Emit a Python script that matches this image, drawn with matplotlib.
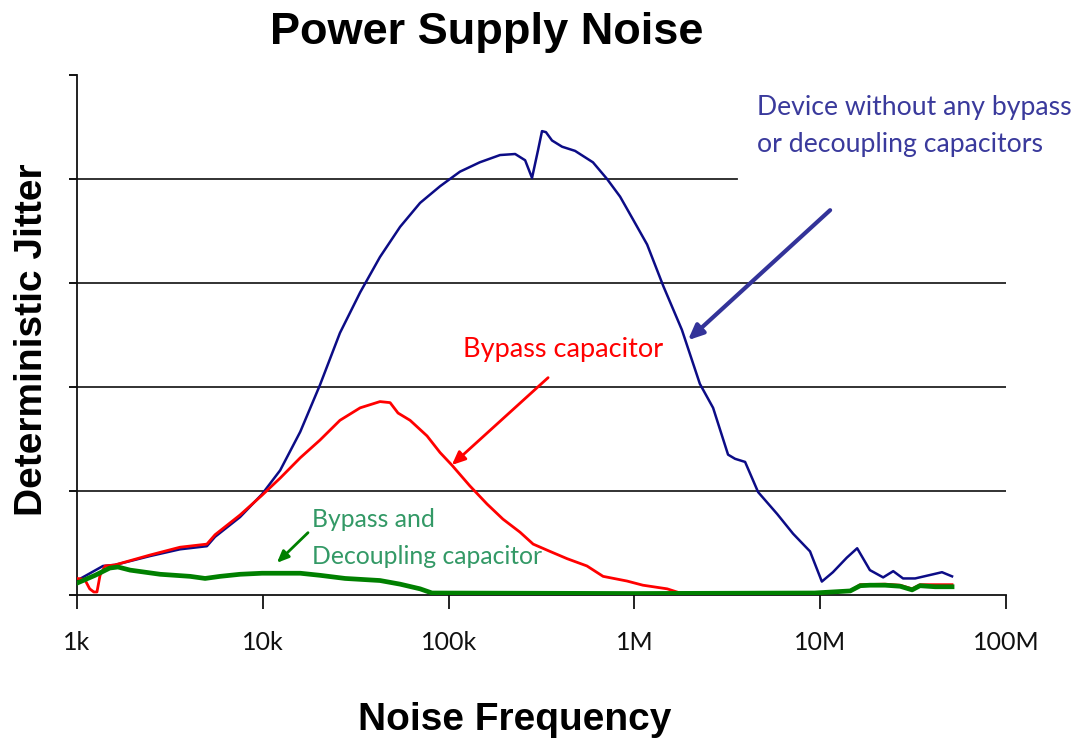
import numpy as np
import matplotlib
matplotlib.use("Agg")
import matplotlib.pyplot as plt

# noise frequency (Hz) and deterministic jitter (arb. units, grid step = 1)
freq_none = [1000, 1175, 1380, 1600, 2470, 3580, 5000, 5530, 7540, 9900,
             12400, 15900, 20300, 26000, 33400, 42700, 54800, 70200, 89900,
             115000, 147000, 189000, 228000, 258000, 281000, 303000, 318000,
             334000, 360000, 408000, 479000, 598000, 712000, 837000, 983000,
             1.17e6, 1.43e6, 1.80e6, 2.25e6, 2.65e6, 3.19e6, 3.48e6, 3.94e6,
             4.63e6, 5.86e6, 7.14e6, 8.81e6, 1.02e7, 1.17e7, 1.39e7, 1.58e7,
             1.85e7, 2.18e7, 2.47e7, 2.79e7, 3.24e7, 4.05e7, 4.52e7, 5.12e7]
jitter_none = [0.14, 0.21, 0.28, 0.29, 0.375, 0.44, 0.47, 0.56, 0.75, 0.97,
               1.20, 1.57, 2.02, 2.52, 2.91, 3.25, 3.54, 3.77, 3.93,
               4.07, 4.16, 4.23, 4.24, 4.18, 4.01, 4.28, 4.46,
               4.45, 4.37, 4.31, 4.27, 4.16, 4.00, 3.83, 3.61,
               3.37, 2.97, 2.55, 2.03, 1.80, 1.35, 1.31, 1.28,
               0.99, 0.78, 0.59, 0.42, 0.13, 0.22, 0.36, 0.45,
               0.24, 0.17, 0.23, 0.16, 0.16, 0.20, 0.22, 0.18]

freq_bypass = [1000, 1100, 1170, 1230, 1280, 1330, 1415, 1600, 2470, 3580, 5000,
               5530, 7540, 9900, 12400, 15900, 20300, 26000, 33400, 42700,
               48400, 53400, 62000, 76500, 89900, 104000, 130000, 161000,
               196000, 242000, 285000, 351000, 434000, 555000, 678000, 912000,
               1.11e6, 1.50e6, 1.76e6, 3.0e6, 6.9e6, 1.0e7, 1.45e7, 1.64e7,
               2.23e7, 2.69e7, 3.12e7, 3.44e7, 5.12e7]
jitter_bypass = [0.16, 0.15, 0.06, 0.03, 0.03, 0.19, 0.28, 0.29, 0.385, 0.46, 0.49,
                 0.58, 0.77, 0.96, 1.125, 1.32, 1.49, 1.68, 1.80, 1.86,
                 1.85, 1.75, 1.68, 1.53, 1.37, 1.25, 1.05, 0.875,
                 0.73, 0.605, 0.49, 0.42, 0.35, 0.28, 0.18, 0.135,
                 0.095, 0.06, 0.02, 0.015, 0.02, 0.02, 0.04, 0.10,
                 0.105, 0.095, 0.06, 0.10, 0.10]

freq_both = [1000, 1250, 1500, 1660, 1930, 2800, 4060, 4890, 5890, 7540,
             9900, 15900, 20300, 27700, 42700, 54800, 70200, 81300, 1.0e6,
             9.3e6, 1.45e7, 1.64e7, 1.85e7, 2.23e7, 2.69e7, 3.12e7, 3.44e7,
             4.15e7, 5.12e7]
jitter_both = [0.115, 0.19, 0.26, 0.27, 0.24, 0.20, 0.18, 0.16, 0.18, 0.20,
               0.21, 0.21, 0.19, 0.16, 0.14, 0.105, 0.06, 0.02, 0.015,
               0.02, 0.04, 0.09, 0.095, 0.095, 0.085, 0.05, 0.09,
               0.08, 0.08]

tick_freqs = [1e3, 1e4, 1e5, 1e6, 1e7, 1e8]
tick_labels = ["1k", "10k", "100k", "1M", "10M", "100M"]

navy = "#0c0c86"
label_blue = "#3a3a9c"
red = "#ff0000"
green = "#008000"
label_green = "#339966"

fig = plt.figure(figsize=(10.76, 7.42), dpi=100)
ax = fig.add_axes([0.0716, 0.198, 0.8634, 0.701])

ax.set_xscale("log")
ax.set_xlim(1e3, 1e8)
ax.set_ylim(0, 5)

# horizontal grid (top line stops short of the text box)
for y in [1, 2, 3]:
    ax.axhline(y, color="#222222", lw=1.3, zorder=0.5)
ax.axhline(4, xmax=0.71, color="#222222", lw=1.3, zorder=0.5)

ax.plot(freq_none, jitter_none, color=navy, lw=1.8, zorder=2)
ax.plot(freq_bypass, jitter_bypass, color=red, lw=2.0, zorder=3)
ax.plot(freq_both, jitter_both, color=green, lw=3.4, zorder=4)

ax.set_xticks(tick_freqs)
ax.set_xticklabels(tick_labels)
ax.xaxis.set_minor_locator(matplotlib.ticker.NullLocator())
ax.set_yticks([0, 1, 2, 3, 4, 5])
ax.set_yticklabels([])
ax.tick_params(axis="x", direction="out", length=10, width=1.3, pad=16,
               labelsize=18, colors="#111111")
ax.tick_params(axis="y", direction="out", length=6, width=1.3)
for lab in ax.get_xticklabels():
    lab.set_fontfamily("Lato")

for side in ["top", "right"]:
    ax.spines[side].set_visible(False)
for side in ["left", "bottom"]:
    ax.spines[side].set_linewidth(1.3)
    ax.spines[side].set_color("#111111")

# annotations
ax.text(4.57e6, 4.51, "Device without any bypass\nor decoupling capacitors",
        color=label_blue, fontsize=19.2, family="Lato", va="center", ha="left",
        linespacing=1.62, zorder=5)
ax.annotate("", xy=(1.94e6, 2.45), xytext=(1.13e7, 3.70),
            arrowprops=dict(arrowstyle="-|>,head_length=0.9,head_width=0.4",
                            color="#333399", lw=3, shrinkA=0, shrinkB=0),
            zorder=6)

ax.text(119000, 2.36, "Bypass capacitor", color=red, fontsize=19.5,
        family="Lato", va="center", ha="left")
ax.annotate("", xy=(104000, 1.25), xytext=(343000, 2.09),
            arrowprops=dict(arrowstyle="-|>,head_length=0.8,head_width=0.35",
                            color=red, lw=2, shrinkA=0, shrinkB=0))

ax.text(18300, 0.55, "Bypass and\nDecoupling capacitor", color=label_green,
        fontsize=17.8, family="Lato", va="center", ha="left", linespacing=1.72)
ax.annotate("", xy=(11900, 0.31), xytext=(17500, 0.60),
            arrowprops=dict(arrowstyle="-|>,head_length=0.7,head_width=0.3",
                            color=green, lw=2, shrinkA=0, shrinkB=0))

fig.text(0.452, 0.956, "Power Supply Noise", ha="center", va="center",
         fontsize=32.5, fontweight="bold", family="Liberation Sans")
fig.text(0.478, 0.03, "Noise Frequency", ha="center", va="center",
         fontsize=28, fontweight="bold", family="Liberation Sans")
fig.text(0.03, 0.542, "Deterministic Jitter", ha="center", va="center",
         rotation=90, fontsize=28, fontweight="bold", family="Liberation Sans")

fig.savefig("out.png", dpi=100)
